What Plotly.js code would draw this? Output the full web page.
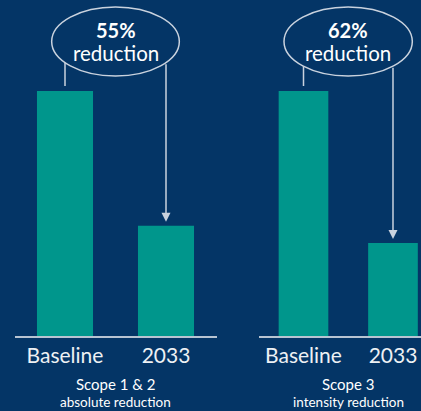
<!DOCTYPE html>
<html><head><meta charset="utf-8">
<script src="https://cdn.plot.ly/plotly-3.0.1.min.js"></script>
<style>html,body{margin:0;padding:0;background:#043566;}</style>
</head><body><div id="chart" style="width:421px;height:411px;"></div>
<script>
const categories = ['Baseline', '2033'];
const scope12Values = [100, 45];
const scope3Values = [100, 38];
const reductionPercents = ['55%', '62%'];
const reductionWord = 'reduction';
const scopeTitles = ['Scope 1 & 2', 'Scope 3'];
const scopeSubtitles = ['absolute reduction', 'intensity reduction'];

const BG = '#043566';
const TEAL = '#00968C';
const LINE = '#c9d2de';
const FONT = 'Lato, "Open Sans", sans-serif';
const YMAX = 137.14;

const panels = [
  {xa: 'x', ya: 'y', values: scope12Values, ell: {x0: -0.132, x1: 1.132, y0: 106.1, y1: 134.3}},
  {xa: 'x2', ya: 'y2', values: scope3Values, ell: {x0: -0.218, x1: 1.216, y0: 106.1, y1: 134.3}}
];

function ellipseBottom(e, x) {
  const cx = (e.x0 + e.x1) / 2, a = (e.x1 - e.x0) / 2;
  const cy = (e.y0 + e.y1) / 2, b = (e.y1 - e.y0) / 2;
  const t = (x - cx) / a;
  return cy - b * Math.sqrt(Math.max(0, 1 - t * t));
}

const traces = panels.map(p => ({
  type: 'bar', x: categories, y: p.values, xaxis: p.xa, yaxis: p.ya,
  marker: {color: TEAL, line: {width: 0}}, width: 0.555, hoverinfo: 'skip', showlegend: false
}));

const shapes = [];
const annotations = [];
panels.forEach((p, i) => {
  shapes.push({type: 'circle', xref: p.xa, yref: p.ya, x0: p.ell.x0, x1: p.ell.x1, y0: p.ell.y0, y1: p.ell.y1,
    line: {color: LINE, width: 1.5}, fillcolor: 'rgba(0,0,0,0)'});
  shapes.push({type: 'line', xref: p.xa, yref: p.ya, x0: 0, x1: 0, y0: p.values[0] + 2, y1: ellipseBottom(p.ell, 0),
    line: {color: LINE, width: 1.5}});
  annotations.push({xref: p.xa, yref: p.ya, axref: p.xa, ayref: p.ya, x: 1, y: p.values[1], ax: 1, ay: ellipseBottom(p.ell, 1),
    text: '', showarrow: true, arrowhead: 2, arrowsize: 1.2, arrowwidth: 1.5, arrowcolor: LINE, standoff: 4});
  annotations.push({xref: p.xa, yref: p.ya, x: 0.5, y: 124.9, text: '<b>' + reductionPercents[i] + '</b>', showarrow: false,
    font: {family: FONT, size: 20, color: '#ffffff'}, yanchor: 'middle'});
  annotations.push({xref: p.xa, yref: p.ya, x: 0.5, y: 115.5, text: reductionWord, showarrow: false,
    font: {family: FONT, size: 20.5, color: '#ffffff'}, yanchor: 'middle'});
  annotations.push({xref: p.xa, yref: 'paper', x: 0.5, y: -0.1429, text: scopeTitles[i], showarrow: false,
    font: {family: FONT, size: 15, color: '#ffffff'}, yanchor: 'middle'});
  annotations.push({xref: p.xa, yref: 'paper', x: 0.5, y: -0.1955, text: scopeSubtitles[i], showarrow: false,
    font: {family: FONT, size: 13.5, color: '#ffffff'}, yanchor: 'middle'});
});

const xbase = {type: 'category', showline: true, linecolor: '#b8c4d2', linewidth: 1.5, showgrid: false, zeroline: false,
  ticks: '', tickfont: {family: FONT, size: 21, color: '#eef1f4'}, fixedrange: true};
const ybase = {range: [0, YMAX], visible: false, showgrid: false, zeroline: false, fixedrange: true};

const layout = {
  width: 421, height: 411,
  margin: {l: 0, r: 0, t: 0, b: 75},
  paper_bgcolor: BG, plot_bgcolor: BG,
  showlegend: false,
  xaxis: Object.assign({}, xbase, {domain: [14.5/421, 216.5/421], range: [-0.5, 1.5], anchor: 'y'}),
  xaxis2: Object.assign({}, xbase, {domain: [258.75/421, 1], range: [-0.5, 1.313], anchor: 'y2'}),
  yaxis: Object.assign({}, ybase, {domain: [0, 1], anchor: 'x'}),
  yaxis2: Object.assign({}, ybase, {domain: [0, 1], anchor: 'x2'}),
  shapes: shapes,
  annotations: annotations
};

Plotly.newPlot('chart', traces, layout, {displayModeBar: false, staticPlot: true});
</script>
</body></html>
